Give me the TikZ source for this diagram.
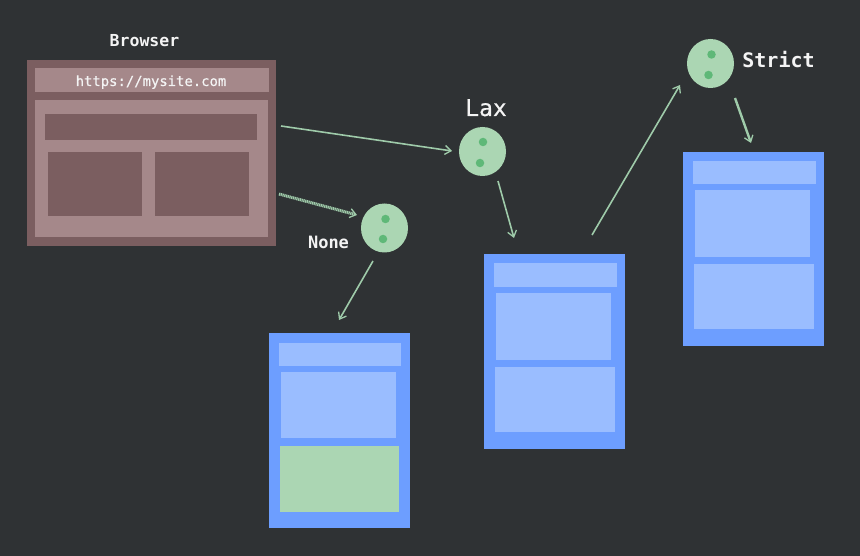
\documentclass[tikz,border=0pt]{standalone}
\usepackage{fontspec}
\setmonofont{DejaVu Sans Mono}
\newfontfamily\monosemi{DejaVu Sans Mono}[FakeBold=0.5]
\usetikzlibrary{arrows.meta,shapes.geometric}
\definecolor{bgc}{HTML}{2F3234}
\definecolor{brdark}{HTML}{7B5E60}
\definecolor{brlight}{HTML}{A5888A}
\definecolor{bluedark}{HTML}{6D9EFF}
\definecolor{bluelight}{HTML}{9ABDFF}
\definecolor{gfill}{HTML}{ABD6B3}
\definecolor{gdot}{HTML}{5FB878}
\definecolor{arrowc}{HTML}{9FCBAA}
\definecolor{txtc}{HTML}{F4F4F4}
\tikzset{
  panel/.style={rectangle,inner sep=0pt,outer sep=0pt,draw=none},
  brouter/.style={panel,fill=brdark},
  brinner/.style={panel,fill=brlight},
  blouter/.style={panel,fill=bluedark},
  blinner/.style={panel,fill=bluelight},
  grinner/.style={panel,fill=gfill},
  ball/.style={ellipse,inner sep=0pt,outer sep=0pt,fill=gfill,minimum width=47pt,minimum height=49pt},
  pip/.style={circle,inner sep=0pt,outer sep=0pt,fill=gdot,minimum size=8.5pt},
  conn/.style={draw=arrowc,line width=1.6pt,-{Straight Barb[length=6pt,width=9pt,line width=1.3pt]}},
  lab/.style={inner sep=0pt,text=txtc,font=\ttfamily\bfseries},
}
\newcommand{\pnl}[6]{\node[#1,minimum width={(#5-#3)*1pt},minimum height={(#6-#4)*1pt}] (#2) at ({(#3+#5)/2},{(#4+#6)/2}) {};}
\begin{document}
\begin{tikzpicture}[x=1pt,y=-1pt]
\fill[bgc] (0,0) rectangle (860,556);
\useasboundingbox (0,0) rectangle (860,556);
% browser
\pnl{brouter}{browser}{27}{60}{276}{246}
\pnl{brinner}{urlbar}{35}{68}{269}{92}
\pnl{brinner}{content}{35}{100}{268}{237}
\pnl{brouter}{banner}{45}{114}{257}{140}
\pnl{brouter}{cardl}{48}{152}{142}{216}
\pnl{brouter}{cardr}{155}{152}{249}{216}
\node[lab,font=\ttfamily\bfseries\fontsize{16.5}{20}\selectfont,anchor=base] (browserlabel) at (144.5,47) {Browser};
\node[inner sep=0pt,text=txtc,font=\monosemi\fontsize{13.9}{18}\selectfont,anchor=base] (urltext) at (151,86) {https://mysite.com};
% blue pages
\pnl{blouter}{pagea}{269}{333}{410}{528}
\pnl{blinner}{pageabar}{279}{343}{401}{366}
\pnl{blinner}{pageaone}{281}{372}{396}{438}
\pnl{grinner}{pageatwo}{280}{446}{399}{512}
\pnl{blouter}{pageb}{484}{254}{625}{449}
\pnl{blinner}{pagebbar}{494}{263}{617}{287}
\pnl{blinner}{pagebone}{496}{293}{611}{360}
\pnl{blinner}{pagebtwo}{495}{367}{615}{432}
\pnl{blouter}{pagec}{683}{152}{824}{346}
\pnl{blinner}{pagecbar}{693}{161}{816}{184}
\pnl{blinner}{pagecone}{695}{190}{810}{257}
\pnl{blinner}{pagectwo}{694}{264}{814}{329}
% balls
\node[ball] (lax) at (482.5,151.5) {};
\node[pip] (laxa) at (483,142) {};
\node[pip] (laxb) at (480,163) {};
\node[ball] (none) at (384.5,228) {};
\node[pip] (nonea) at (385.5,219) {};
\node[pip] (noneb) at (383,239) {};
\node[ball] (strict) at (710.5,63.5) {};
\node[pip] (stricta) at (711.5,54.5) {};
\node[pip] (strictb) at (708.5,75) {};
% labels
\node[inner sep=0pt,text=txtc,font=\monosemi\fontsize{23}{26}\selectfont,anchor=base] (laxlabel) at (486,116) {Lax};
\node[lab,font=\ttfamily\bfseries\fontsize{17}{20}\selectfont,anchor=base] (nonelabel) at (328.5,249) {None};
\node[lab,font=\ttfamily\bfseries\fontsize{20}{24}\selectfont,anchor=base] (strictlabel) at (778.5,67.5) {Strict};
% connector ends
\coordinate (browsertop) at (281,126);
\coordinate (browserlow) at (279,194);
\coordinate (laxin) at (452,151);
\coordinate (laxout) at (498,181);
\coordinate (nonein) at (357,215);
\coordinate (noneout) at (373,261);
\coordinate (pageain) at (339,320);
\coordinate (pagebin) at (514,238);
\coordinate (pagebout) at (592,235);
\coordinate (strictin) at (680,85);
\coordinate (strictout) at (735,98);
\coordinate (pagecin) at (751,143);
% connectors
\draw[conn] (browsertop) -- (laxin);
\draw[conn,line width=3pt,dash pattern=on 1.2pt off .6pt] (browserlow) -- (nonein);
\draw[conn] (laxout) -- (pagebin);
\draw[conn] (noneout) -- (pageain);
\draw[conn] (pagebout) -- (strictin);
\draw[conn,line width=2.4pt] (strictout) -- (pagecin);
\end{tikzpicture}
\end{document}
